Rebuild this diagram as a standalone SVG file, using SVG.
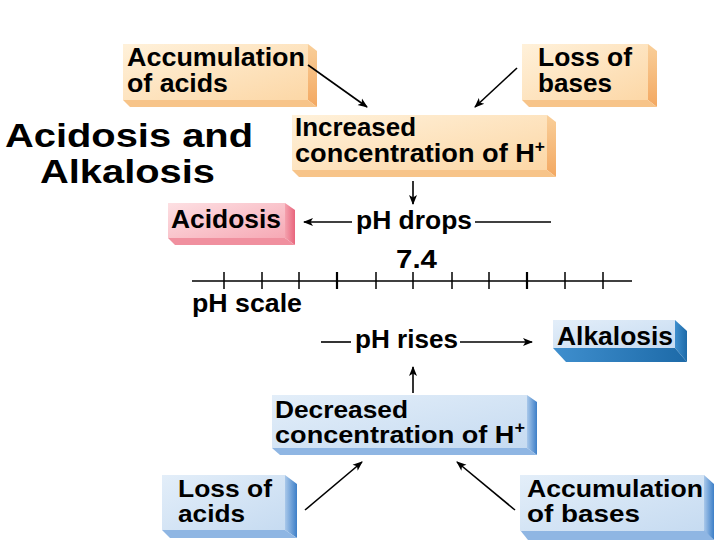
<svg xmlns="http://www.w3.org/2000/svg" width="720" height="540" viewBox="0 0 720 540">
<defs>
<linearGradient id="gOr" x1="0" y1="0" x2="1" y2="1"><stop offset="0" stop-color="#fff1da"/><stop offset="1" stop-color="#fcd7a6"/></linearGradient>
<linearGradient id="gOrS" x1="0" y1="0" x2="0" y2="1"><stop offset="0" stop-color="#f9cf9a"/><stop offset="1" stop-color="#f3a861"/></linearGradient>
<linearGradient id="gPk" x1="0" y1="0" x2="1" y2="1"><stop offset="0" stop-color="#fde0e3"/><stop offset="1" stop-color="#f6a9b5"/></linearGradient>
<linearGradient id="gPkS" x1="0" y1="0" x2="1" y2="0"><stop offset="0" stop-color="#f4a2ae"/><stop offset="1" stop-color="#e8657d"/></linearGradient>
<linearGradient id="gBl" x1="0" y1="0" x2="1" y2="1"><stop offset="0" stop-color="#e3eef9"/><stop offset="1" stop-color="#c6dbf1"/></linearGradient>
<linearGradient id="gBlS" x1="0" y1="0" x2="1" y2="0"><stop offset="0" stop-color="#a9c8ea"/><stop offset="1" stop-color="#3d7fc8"/></linearGradient>
<linearGradient id="gAk" x1="0" y1="0" x2="1" y2="0"><stop offset="0" stop-color="#3f8fce"/><stop offset="1" stop-color="#1d6aa8"/></linearGradient>
<marker id="ah" viewBox="0 0 10 10" refX="9" refY="5" markerWidth="10" markerHeight="10" markerUnits="userSpaceOnUse" orient="auto"><path d="M0,1 L10,5 L0,9 L2.5,5 Z" fill="#000"/></marker>
</defs>
<style>
text{font-family:"Liberation Sans",Arial,sans-serif;font-weight:bold;fill:#000;}
.b{font-size:25px;}
.s{font-size:24px;}
.t{font-size:34px;}
.ln{stroke:#000;stroke-width:1.6;fill:none;}
.tk{stroke:#000;stroke-width:1.5;}
</style>
<rect width="720" height="540" fill="#fff"/>

<g id="title">
<text class="t" x="5" y="147" textLength="248" lengthAdjust="spacingAndGlyphs">Acidosis and</text>
<text class="t" x="40" y="183" textLength="175" lengthAdjust="spacingAndGlyphs">Alkalosis</text>
</g>

<g id="acc-acids">
<polygon points="308,44 317,51 317,107 308,100" fill="url(#gOrS)"/>
<polygon points="123,100 308,100 317,107 130,107" fill="#f7c489"/>
<rect x="123" y="44" width="185" height="56" fill="url(#gOr)"/>
<text class="b" x="127" y="66" textLength="178" lengthAdjust="spacingAndGlyphs">Accumulation</text>
<text class="b" x="127" y="92" textLength="101" lengthAdjust="spacingAndGlyphs">of acids</text>
</g>

<g id="loss-bases">
<polygon points="648,44 657,51 657,107 648,100" fill="url(#gOrS)"/>
<polygon points="522,100 648,100 657,107 529,107" fill="#f7c489"/>
<rect x="522" y="44" width="126" height="56" fill="url(#gOr)"/>
<text class="b" x="538" y="66" textLength="94" lengthAdjust="spacingAndGlyphs">Loss of</text>
<text class="b" x="538" y="92" textLength="74" lengthAdjust="spacingAndGlyphs">bases</text>
</g>

<g id="inc-h">
<polygon points="547,115 556,122 556,177 547,170" fill="url(#gOrS)"/>
<polygon points="292,170 547,170 556,177 299,177" fill="#f7c489"/>
<rect x="292" y="115" width="255" height="55" fill="url(#gOr)"/>
<text class="b" x="295" y="136" textLength="121" lengthAdjust="spacingAndGlyphs">Increased</text>
<text class="b" x="295" y="162" textLength="250" lengthAdjust="spacingAndGlyphs">concentration of H<tspan font-size="16" dy="-10">+</tspan></text>
</g>

<g id="acidosis">
<polygon points="285,203 295,210 295,245 285,238" fill="url(#gPkS)"/>
<polygon points="168,238 285,238 295,245 175,245" fill="#f0909f"/>
<rect x="168" y="203" width="117" height="35" fill="url(#gPk)"/>
<text class="b" x="171" y="228" textLength="110" lengthAdjust="spacingAndGlyphs">Acidosis</text>
</g>

<g id="ph-drops">
<text class="b" x="356" y="229" textLength="116" lengthAdjust="spacingAndGlyphs">pH drops</text>
</g>

<g id="ph-scale">
<text class="b" x="396" y="268" textLength="41" lengthAdjust="spacingAndGlyphs">7.4</text>
<line class="ln" x1="192" y1="281" x2="632" y2="281"/>
<g class="tk">
<line x1="224" y1="272" x2="224" y2="289"/>
<line x1="262" y1="272" x2="262" y2="289"/>
<line x1="299" y1="272" x2="299" y2="289"/>
<line x1="337" y1="272" x2="337" y2="289" stroke-width="2.2"/>
<line x1="376" y1="272" x2="376" y2="289"/>
<line x1="413" y1="272" x2="413" y2="289"/>
<line x1="452" y1="272" x2="452" y2="289"/>
<line x1="489" y1="272" x2="489" y2="289"/>
<line x1="527" y1="272" x2="527" y2="289" stroke-width="2.2"/>
<line x1="565" y1="272" x2="565" y2="289"/>
<line x1="603" y1="272" x2="603" y2="289"/>
</g>
<text class="b" x="192" y="312" textLength="110" lengthAdjust="spacingAndGlyphs">pH scale</text>
</g>

<g id="ph-rises">
<text class="b" x="355" y="348" textLength="103" lengthAdjust="spacingAndGlyphs">pH rises</text>
</g>

<g id="alkalosis">
<polygon points="675,320 687,331 687,362 675,348" fill="url(#gAk)"/>
<polygon points="553,348 675,348 687,362 566,362" fill="url(#gAk)"/>
<rect x="553" y="320" width="122" height="28" fill="url(#gBl)"/>
<text class="b" x="557" y="345" textLength="116" lengthAdjust="spacingAndGlyphs">Alkalosis</text>
</g>

<g id="dec-h">
<polygon points="527,395 537,402 537,455 527,448" fill="url(#gBlS)"/>
<polygon points="272,448 527,448 537,455 280,455" fill="#8fb6e3"/>
<rect x="272" y="395" width="255" height="53" fill="url(#gBl)"/>
<text class="s" x="275" y="418" textLength="133" lengthAdjust="spacingAndGlyphs">Decreased</text>
<text class="s" x="275" y="443" textLength="250" lengthAdjust="spacingAndGlyphs">concentration of H<tspan font-size="16" dy="-10">+</tspan></text>
</g>

<g id="loss-acids">
<polygon points="285,475 297,484 297,538 285,530" fill="url(#gBlS)"/>
<polygon points="162,530 285,530 297,538 170,538" fill="#8fb6e3"/>
<rect x="162" y="475" width="123" height="55" fill="url(#gBl)"/>
<text class="s" x="178" y="497" textLength="94" lengthAdjust="spacingAndGlyphs">Loss of</text>
<text class="s" x="178" y="522" textLength="67" lengthAdjust="spacingAndGlyphs">acids</text>
</g>

<g id="acc-bases">
<polygon points="704,475 714,484 714,540 704,532" fill="url(#gBlS)"/>
<polygon points="520,530 704,530 714,540 528,540" fill="#8fb6e3"/>
<rect x="520" y="475" width="184" height="56" fill="url(#gBl)"/>
<text class="s" x="527" y="497" textLength="176" lengthAdjust="spacingAndGlyphs">Accumulation</text>
<text class="s" x="527" y="522" textLength="113" lengthAdjust="spacingAndGlyphs">of bases</text>
</g>

<g id="connectors">
<line class="ln" x1="308" y1="65" x2="367" y2="107" marker-end="url(#ah)"/>
<line class="ln" x1="517" y1="68" x2="475" y2="107" marker-end="url(#ah)"/>
<line class="ln" x1="413" y1="181" x2="413" y2="204" marker-end="url(#ah)"/>
<line class="ln" x1="352" y1="222" x2="304" y2="222" marker-end="url(#ah)"/>
<line class="ln" x1="475" y1="222" x2="551" y2="222"/>
<line class="ln" x1="321" y1="342" x2="351" y2="342"/>
<line class="ln" x1="460" y1="342" x2="532" y2="342" marker-end="url(#ah)"/>
<line class="ln" x1="413" y1="393" x2="413" y2="367" marker-end="url(#ah)"/>
<line class="ln" x1="305" y1="510" x2="362" y2="462" marker-end="url(#ah)"/>
<line class="ln" x1="515" y1="510" x2="457" y2="462" marker-end="url(#ah)"/>
</g>
</svg>
